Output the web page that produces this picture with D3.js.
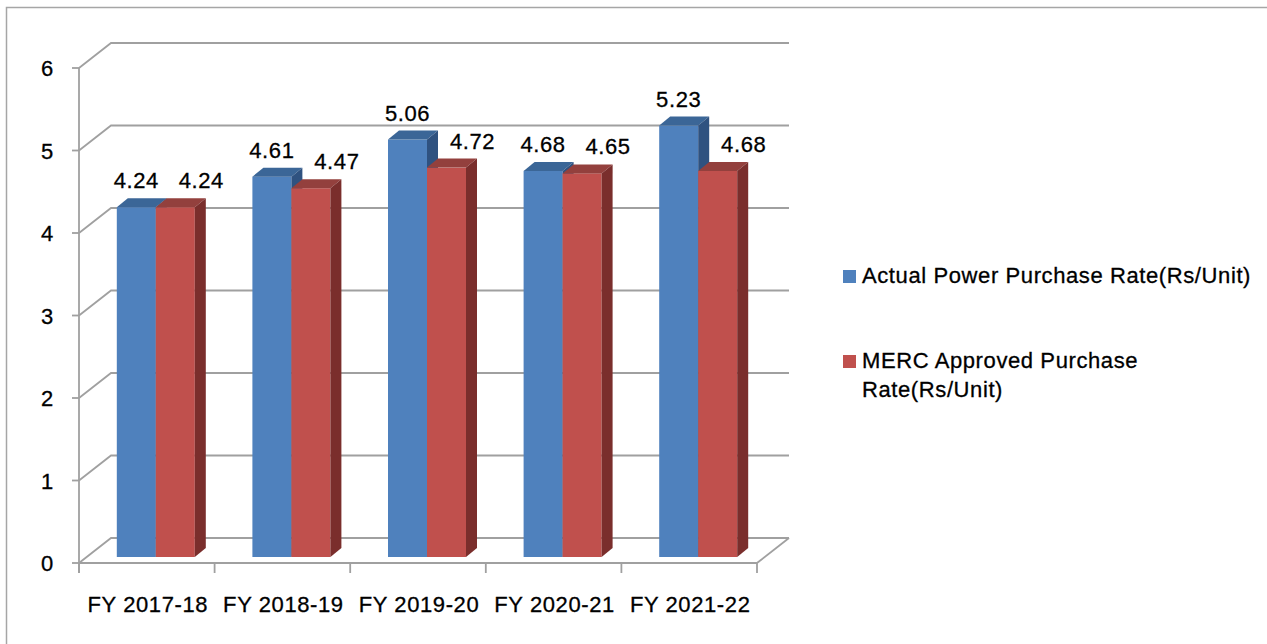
<!DOCTYPE html>
<html><head><meta charset="utf-8">
<script src="https://cdn.jsdelivr.net/npm/d3@7"></script>
<style>
html,body{margin:0;padding:0;background:#fff;}
text{font-family:"Liberation Sans",Arial,sans-serif;fill:#000;stroke:#000;stroke-width:0.3px;}
</style></head>
<body><svg id="chart" width="1267" height="644"></svg>
<script>
const categories = ["FY 2017-18","FY 2018-19","FY 2019-20","FY 2020-21","FY 2021-22"];
const seriesNames = ["Actual Power Purchase Rate(Rs/Unit)","MERC Approved Purchase Rate(Rs/Unit)"];
const actualRate = [4.24,4.61,5.06,4.68,5.23];
const mercRate = [4.24,4.47,4.72,4.65,4.68];
const yTicks = [0,1,2,3,4,5,6];
const legendLines = [["Actual Power Purchase Rate(Rs/Unit)"],["MERC Approved Purchase","Rate(Rs/Unit)"]];

const seriesValues = [actualRate, mercRate];
const colors = [
  {front:"#4F81BD", top:"#3B6697", side:"#2F5280"},
  {front:"#C0504D", top:"#93403D", side:"#7A2E2C"}
];

const svg = d3.select("#chart");
// outer border
svg.append("rect").attr("x",6.5).attr("y",7.5).attr("width",1300).attr("height",700)
  .attr("fill","none").attr("stroke","#a6a6a6").attr("stroke-width",1.5);

const x0 = 79, x1 = 757;
const x = d3.scaleBand().domain(categories).range([x0,x1]);
const y = d3.scaleLinear().domain([0,6]).range([563,68]);
const wallDx = 32, wallDy = -25;   // depth of the plot box
const barOx = 9, barOy = -6;       // bar front offset into the box
const barDx = 11, barDy = -9;      // bar depth
const barW = 39;
const xs = d3.scaleBand().domain(d3.range(seriesValues.length)).range([-barW, barW]);

const grid = svg.append("g").attr("stroke","#a0a0a0").attr("stroke-width",1.8).attr("fill","none");
yTicks.forEach(t => {
  const yy = y(t);
  grid.append("path").attr("d", `M${x0},${yy}L${x0+wallDx},${yy+wallDy}L${x1+wallDx},${yy+wallDy}`);
});
// floor right edge
grid.append("path").attr("d", `M${x1},${y(0)}L${x1+wallDx},${y(0)+wallDy}`);

// bars
const barsG = svg.append("g");
categories.forEach((c,i) => {
  seriesValues.forEach((vals,s) => {
    const v = vals[i];
    const bx = x(c) + x.bandwidth()/2 + barOx + xs(s);
    const by0 = y(0) + barOy;
    const byT = y(v) + barOy;
    const w = xs.bandwidth();
    const col = colors[s];
    barsG.append("rect").attr("x",bx).attr("y",byT).attr("width",w).attr("height",by0-byT).attr("fill",col.front);
    barsG.append("path").attr("fill",col.top)
      .attr("d",`M${bx},${byT}L${bx+barDx},${byT+barDy}L${bx+w+barDx},${byT+barDy}L${bx+w},${byT}Z`);
    barsG.append("path").attr("fill",col.side)
      .attr("d",`M${bx+w},${byT}L${bx+w+barDx},${byT+barDy}L${bx+w+barDx},${by0+barDy}L${bx+w},${by0}Z`);
  });
});

// front axes
const ax = svg.append("g").attr("stroke","#a0a0a0").attr("stroke-width",1.8).attr("fill","none");
ax.append("line").attr("x1",x0).attr("x2",x0).attr("y1",y(6)).attr("y2",y(0)+10);
ax.append("line").attr("x1",x0).attr("x2",x1).attr("y1",y(0)).attr("y2",y(0));
yTicks.forEach(t => ax.append("line").attr("x1",x0-7).attr("x2",x0).attr("y1",y(t)).attr("y2",y(t)));
categories.concat([null]).forEach((c,i) => {
  const xx = c===null ? x1 : x(c);
  ax.append("line").attr("x1",xx).attr("x2",xx).attr("y1",y(0)).attr("y2",y(0)+10);
});

const fs = 22, ls = 0.6;
// y tick labels
yTicks.forEach(t => svg.append("text").attr("x",47).attr("y",y(t)+8)
  .attr("text-anchor","middle").style("font-size",fs+"px").text(t));
// category labels
categories.forEach(c => svg.append("text").attr("x",x(c)+x.bandwidth()/2+1).attr("y",612)
  .attr("text-anchor","middle").style("font-size",fs+"px").style("letter-spacing",ls+"px").text(c));
// value labels
const labelShift = [0, 26];
categories.forEach((c,i) => {
  seriesValues.forEach((vals,s) => {
    const v = vals[i];
    const cx = x(c) + x.bandwidth()/2 + barOx + xs(s) + xs.bandwidth()/2 + labelShift[s];
    svg.append("text").attr("x",cx).attr("y",y(v)+barOy-19)
      .attr("text-anchor","middle").style("font-size",fs+"px").style("letter-spacing",ls+"px")
      .text(v.toFixed(2));
  });
});

// legend
const legendY = [283, 368];
legendLines.forEach((lines,s) => {
  svg.append("rect").attr("x",843).attr("y",legendY[s]-13).attr("width",13).attr("height",13).attr("fill",colors[s].front);
  lines.forEach((ln,j) => svg.append("text").attr("x",862).attr("y",legendY[s]+j*29)
    .style("font-size",fs+"px").style("letter-spacing",ls+"px").text(ln));
});
</script>
</body></html>
